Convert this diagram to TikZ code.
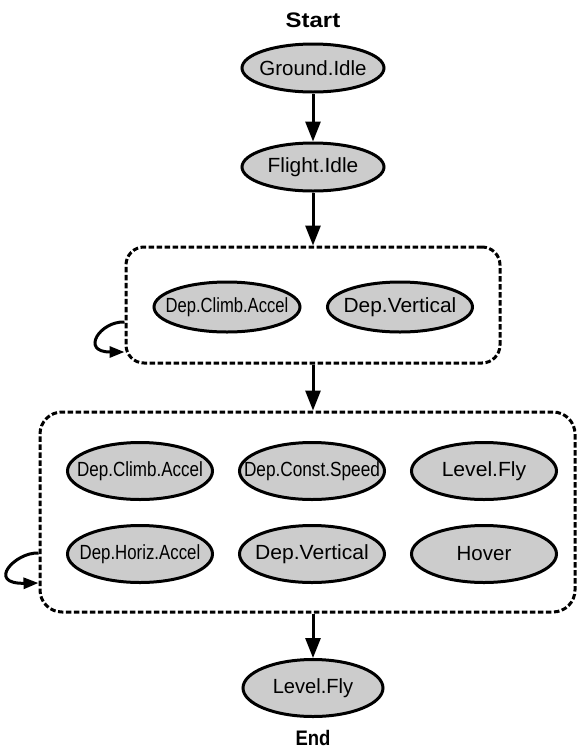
\documentclass[tikz,border=0pt]{standalone}
\usepackage{fontspec}
\setmainfont{Liberation Sans}
\usetikzlibrary{shapes.geometric,arrows.meta}
\newcommand{\lbl}[2]{\makebox[0pt]{\scalebox{#1}[1]{#2}}}
\begin{document}
\begin{tikzpicture}[x=1pt,y=-1pt,
  st/.style={ellipse,draw,line width=3pt,fill=black!20,minimum width=142pt,minimum height=48pt,inner sep=0pt,font=\fontsize{20.5}{23}\selectfont},
  tall/.style={minimum height=57pt},
  grp/.style={draw,line width=3pt,dash pattern=on 5.5pt off 2.5pt,inner sep=0pt},
  flow/.style={line width=3pt,-{Triangle[length=20pt,width=15pt]}},
  loopar/.style={line width=3pt,-{Triangle[length=15pt,width=11pt]}},
  term/.style={font=\bfseries\fontsize{21}{23}\selectfont,inner sep=0pt}]
\useasboundingbox (0,0) rectangle (578,753);

\node[term] (start) at (313,20) {\scalebox{1.14}[1]{Start}};
\node[st] (g1) at (313,68) {\lbl{1.0}{Ground.Idle}};
\node[st] (f1) at (313,167) {\lbl{1.02}{Flight.Idle}};

\node[grp,rounded corners=18pt,minimum width=374pt,minimum height=116pt] (box1) at (313,305) {};
\node[st,minimum height=50pt,minimum width=146pt] (c1) at (227,307) {\lbl{0.81}{Dep.Climb.Accel}};
\node[st,minimum height=50pt,minimum width=145pt] (v1) at (400,307) {\lbl{1.02}{Dep.Vertical}};

\node[grp,rounded corners=22pt,minimum width=535pt,minimum height=200pt] (box2) at (307.5,512) {};
\node[st,tall,minimum width=145pt] (c2) at (140,471) {\lbl{0.83}{Dep.Climb.Accel}};
\node[st,tall,minimum width=145pt] (s2) at (312,471) {\lbl{0.84}{Dep.Const.Speed}};
\node[st,tall,minimum width=145pt] (l2) at (484,471) {\lbl{1.03}{Level.Fly}};
\node[st,tall,minimum width=145pt] (h2) at (140,554) {\lbl{0.82}{Dep.Horiz.Accel}};
\node[st,tall,minimum width=145pt] (v2) at (312,554) {\lbl{1.03}{Dep.Vertical}};
\node[st,tall,minimum width=145pt] (o2) at (484,554) {\lbl{1.0}{Hover}};

\node[st,tall,minimum width=140pt] (lf) at (313,688) {\lbl{0.98}{Level.Fly}};
\node[term] (end) at (313,738) {\scalebox{0.88}[1]{End}};

\draw[flow] (g1.south) -- (f1.north);
\draw[flow] (f1.south) -- (f1.south |- box1.north);
\draw[flow] (box1.south) -- (box1.south |- box2.north);
\draw[flow] (box1.south |- box2.south) -- (lf.north);

\coordinate (a1) at (box1.west |- 0,322);
\coordinate (b1) at (box1.west |- 0,352);
\draw[loopar] (a1) .. controls (100,321) and (80,352) .. (b1);
\coordinate (a2) at (box2.west |- 0,553);
\coordinate (b2) at (box2.west |- 0,583);
\draw[loopar] (a2) .. controls (15,552) and (-14,584) .. (b2);
\end{tikzpicture}
\end{document}
